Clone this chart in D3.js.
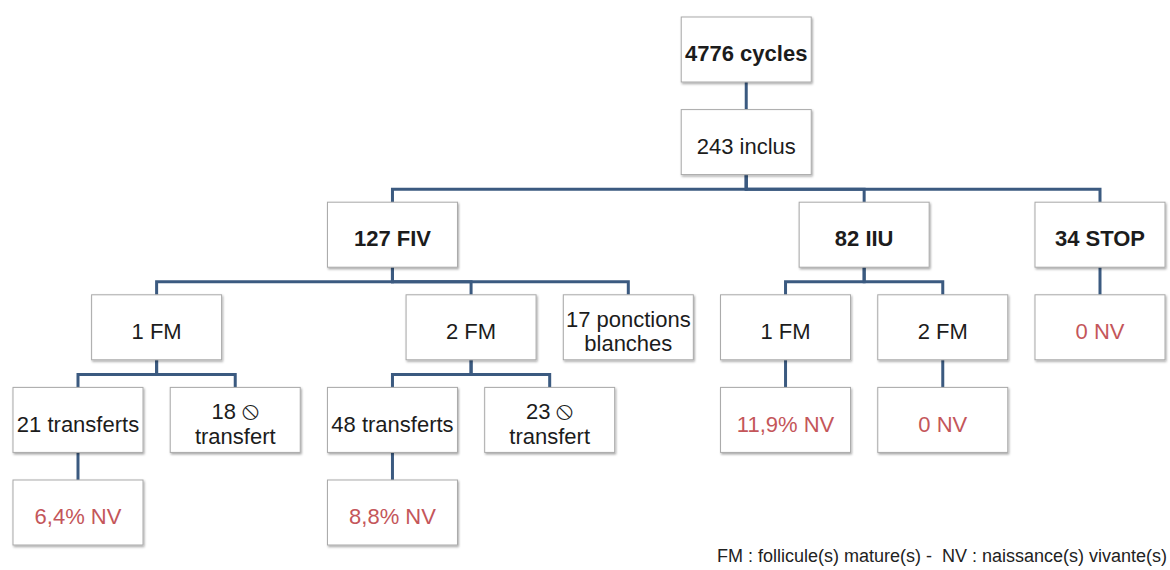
<!DOCTYPE html>
<html lang="fr">
<head>
    <meta charset="UTF-8">
    <title>Arbre des cycles</title>
    <script src="https://d3js.org/d3.v7.min.js"></script>
    <style>
        body {
            margin: 0;
            background: #fff;
        }
        svg {
            display: block;
        }
        .node rect {
            fill: #fff;
            stroke: #a9a9a9;
            stroke-width: 1;
        }
        .node text {
            font-family: "Liberation Sans", Arial, sans-serif;
            font-size: 22px;
            fill: #1c1c1c;
            text-anchor: middle;
        }
        .node .sym {
            font-family: "DejaVu Sans", sans-serif;
            font-size: 26px;
        }
        .node.bold text {
            font-weight: bold;
        }
        .node.outcome text {
            fill: #c4565a;
        }
        .link {
            fill: none;
            stroke: #3b5a80;
            stroke-width: 3;
        }
        .note {
            font-family: "Liberation Sans", Arial, sans-serif;
            font-size: 18px;
            fill: #222;
            text-anchor: end;
            white-space: pre;
        }
    </style>
</head>
<body>
    <svg width="1170" height="570"></svg>
    <script>
        // Tree data: one entry per box
        const nodeIds = ["cycles", "inclus", "fiv", "iiu", "stop",
                         "fiv1", "fiv2", "blanches", "t21", "t18", "t48", "t23", "nv64", "nv88",
                         "iiu1", "iiu2", "stopNv", "nv119", "nv0"];
        const nodeLabels = [["4776 cycles"], ["243 inclus"], ["127 FIV"], ["82 IIU"], ["34 STOP"],
                            ["1 FM"], ["2 FM"], ["17 ponctions", "blanches"],
                            ["21 transferts"], ["18 \u29B8", "transfert"], ["48 transferts"], ["23 \u29B8", "transfert"],
                            ["6,4% NV"], ["8,8% NV"],
                            ["1 FM"], ["2 FM"], ["0 NV"], ["11,9% NV"], ["0 NV"]];
        const nodeParents = [null, "cycles", "inclus", "inclus", "inclus",
                             "fiv", "fiv", "fiv", "fiv1", "fiv1", "fiv2", "fiv2", "t21", "t48",
                             "iiu", "iiu", "stop", "iiu1", "iiu2"];
        // row (depth) and column slot of each box in the grid
        const nodeRows = [0, 1, 2, 2, 2, 3, 3, 3, 4, 4, 4, 4, 5, 5, 3, 3, 3, 4, 4];
        const nodeCols = [9.5, 9.5, 5, 11, 14, 2, 6, 8, 1, 3, 5, 7, 1, 5, 10, 12, 14, 10, 12];
        const headlineIds = ["cycles", "fiv", "iiu", "stop"];
        const footnote = "FM : follicule(s) mature(s) -  NV : naissance(s) vivante(s)";

        const boxW = 130, boxH = 65;
        const SYM = "\u29B8";

        const svg = d3.select("svg");

        const x = d3.scaleLinear().domain([1, 14]).range([78, 1100]);
        const y = d3.scaleLinear().domain([0, 5]).range([49.5, 512.5]);

        const table = nodeIds.map((id, i) => ({
            id,
            parent: nodeParents[i],
            lines: nodeLabels[i],
            row: nodeRows[i],
            col: nodeCols[i]
        }));

        const root = d3.stratify()
            .id(d => d.id)
            .parentId(d => d.parent)(table);

        // Elbow connectors
        svg.append("g")
           .selectAll("path")
           .data(root.links())
           .join("path")
           .attr("class", "link")
           .attr("d", l => {
               const x0 = x(l.source.data.col), y0 = y(l.source.data.row) + boxH / 2;
               const x1 = x(l.target.data.col), y1 = y(l.target.data.row) - boxH / 2;
               const ym = y1 - 13;
               return `M${x0},${y0}V${ym}H${x1}V${y1}`;
           });

        // Soft shadow for the boxes
        const defs = svg.append("defs");
        const f = defs.append("filter").attr("id", "shadow")
            .attr("x", "-10%").attr("y", "-10%").attr("width", "125%").attr("height", "130%");
        f.append("feDropShadow")
         .attr("dx", 1).attr("dy", 1.5).attr("stdDeviation", 1)
         .attr("flood-color", "#000").attr("flood-opacity", 0.35);

        const node = svg.append("g")
            .selectAll("g")
            .data(root.descendants())
            .join("g")
            .attr("class", d => "node"
                + (headlineIds.includes(d.id) ? " bold" : "")
                + (/NV$/.test(d.data.lines[0]) ? " outcome" : ""))
            .attr("transform", d => `translate(${x(d.data.col)},${y(d.data.row)})`);

        node.append("rect")
            .attr("x", -boxW / 2)
            .attr("y", -boxH / 2)
            .attr("width", boxW)
            .attr("height", boxH)
            .attr("filter", "url(#shadow)");

        node.each(function(d) {
            const lines = d.data.lines;
            const t = d3.select(this).append("text");
            lines.forEach((s, i) => {
                const line = t.append("tspan")
                 .attr("x", 0)
                 .attr("y", 4 + (i - (lines.length - 1) / 2) * 25)
                 .attr("dy", "0.35em");
                // the "no" sign gets its own font so it is drawn full size
                const parts = s.split(SYM);
                line.text(parts[0]);
                if (parts.length > 1) {
                    line.append("tspan").attr("class", "sym").text(SYM);
                }
            });
        });

        svg.append("text")
           .attr("class", "note")
           .attr("x", 1167)
           .attr("y", 562)
           .text(footnote);
    </script>
</body>
</html>
